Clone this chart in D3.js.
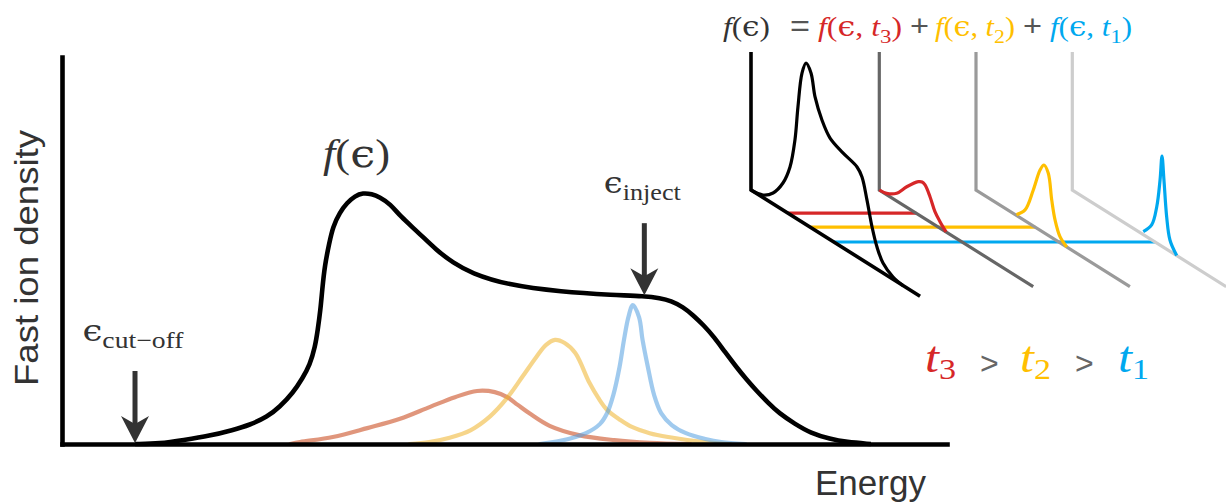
<!DOCTYPE html>
<html><head><meta charset="utf-8">
<script src="https://cdn.jsdelivr.net/npm/d3@7"></script>
<style>html,body{margin:0;padding:0;background:#fff;}svg{display:block;}</style>
</head><body>
<svg id="chart" width="1226" height="503"></svg>
<script>
// ---------- main chart data (energy 0-100, density 0-100, arbitrary units) ----------
const sumEnergy = [8.25, 11.1, 13.7, 16.7, 19.3, 21.2, 23.2, 24.6, 26.1, 27.2, 28.0, 28.6, 28.9, 29.2, 29.4, 29.7, 30.2, 30.6, 31.4, 32.2, 33.1, 34.0, 35.0, 35.9, 37.1, 38.2, 40.2, 42.3, 44.2, 46.2, 50.3, 56.4, 62.4, 65.8, 67.6, 68.8, 70.2, 71.3, 72.5, 73.7, 74.9, 76.2, 77.3, 78.5, 79.8, 81.0, 82.8, 84.6, 86.8, 88.6, 91.4];
const sumDensity = [0, 0.1, 1.0, 2.1, 3.6, 4.9, 7.0, 9.6, 13.2, 17.1, 20.4, 25.1, 29.5, 34.6, 39.8, 46.3, 51.9, 56.1, 59.9, 62.3, 64.1, 64.9, 64.6, 63.8, 62.0, 58.9, 54.8, 50.1, 46.8, 44.2, 41.1, 39.3, 38.5, 38.2, 37.7, 37.0, 35.4, 33.3, 30.7, 27.6, 23.8, 19.9, 16.8, 13.7, 10.6, 8.0, 5.2, 2.8, 1.3, 0.5, 0];

const t3Energy = [25.8, 26.9, 30.6, 34.5, 38.2, 41.6, 44.4, 46.9, 48.9, 50.3, 51.5, 52.9, 55.1, 58.4, 62.4, 66.4, 71.0];
const t3Density = [0, 0.5, 1.8, 4.1, 6.5, 9.6, 12.1, 13.7, 13.4, 12.1, 10.1, 7.8, 4.7, 2.3, 1.0, 0.3, 0];
const t2Energy = [39.3, 41.5, 43.8, 46.2, 48.4, 50.3, 52.0, 53.6, 54.7, 55.7, 56.8, 58.0, 59.6, 60.6, 61.6, 63.1, 64.4, 66.4, 68.5, 72.5, 75.5];
const t2Density = [0, 0.5, 1.6, 3.6, 7.2, 11.9, 17.3, 22.5, 25.6, 26.9, 26.1, 23.5, 15.8, 11.9, 8.8, 6.2, 4.4, 2.8, 1.8, 0.5, 0];
const t1Energy = [54.0, 56.3, 59.2, 60.8, 61.6, 62.3, 63.0, 63.5, 64.0, 64.5, 65.2, 65.6, 66.2, 66.9, 67.7, 68.9, 70.5, 72.7, 74.5, 77.2];
const t1Density = [0, 0.8, 2.8, 5.2, 8.0, 12.7, 19.9, 26.9, 32.8, 35.9, 32.8, 26.9, 19.9, 12.7, 8.0, 4.9, 2.8, 1.3, 0.5, 0];

const markerNames = ["cut\u2212off", "inject"];
const markerEnergy = [8.25, 65.8];
const markerDensity = [0, 38.2];

const axisLabels = ["Energy", "Fast ion density"];

// ---------- inset data (energy along the oblique axis, height) ----------
const insetSumS = [0, 8, 14.7, 21.3, 26, 29.3, 31.3, 34, 36.7, 40, 42.7, 47.3, 52.7, 61.3, 70.7, 74, 77.3, 80.7, 84, 88, 94.7, 101.3];
const insetSumH = [0, 1.6, 6.8, 16.9, 29.7, 48.5, 70.3, 93.1, 100.9, 96.7, 83.3, 71.6, 63.5, 59.3, 56, 51.7, 39.3, 24.4, 13.8, 6.2, 1.4, 0];
const insetT3S = [0, 4.9, 11.6, 18.3, 26, 28.5, 30.5, 33.8, 37.1, 40.5, 44.5];
const insetT3H = [0, 0.8, 4.8, 12.8, 20.5, 21.8, 21.1, 15.7, 8.3, 4.0, 0];
const insetT2S = [27, 32.7, 38.2, 42.7, 45.3, 48.2, 50.5, 52.7, 56, 60.5];
const insetT2H = [0.5, 6.8, 22.5, 37.6, 42.3, 38.8, 23.4, 12.3, 3.8, 0];
const insetT1S = [47.3, 52.9, 56.3, 58.5, 59.8, 61.1, 62.9, 65.1, 69.6];
const insetT1H = [1.8, 9.3, 22.7, 40.7, 56.4, 42.3, 20.4, 7.1, 0];
const insetLevels = [24.6, 39.5, 55.2];       // t3, t2, t1 connector positions
const insetAxisLength = [112.7, 102.6, 102.6, 102.6];
const insetAxisHeight = 86.3;

const timeLabels = ["3", "2", "1"];

// ---------- styles / layout ----------
const SERIF = "'Liberation Serif','DejaVu Serif',serif";
const GREEK = "'DejaVu Serif','Liberation Serif',serif";
const SANS = "'Liberation Sans',Arial,sans-serif";
const TXT = "#333";
const compColors = ["#d62728", "#ffbf00", "#00a8ef"];          // t3, t2, t1
const softColors = ["rgba(199,64,17,0.55)", "rgba(239,179,42,0.55)", "rgba(82,159,224,0.55)"];
const panelColors = ["#000", "#666", "#9a9a9a", "#cdcdcd"];
const panelX = [751, 879.3, 976, 1072.3];
const panelY = 190, slope = 0.628;

const svg = d3.select("#chart");
svg.append("rect").attr("width", 1226).attr("height", 503).attr("fill", "#fff");

const x = d3.scaleLinear().domain([0, 100]).range([62, 947]);
const y = d3.scaleLinear().domain([0, 100]).range([444, 57]);
const zip = (a, b) => a.map((v, i) => [v, b[i]]);
const compLine = d3.line().x(d => x(d[0])).y(d => y(d[1])).curve(d3.curveCatmullRom.alpha(0.5));
const sumLine = d3.line().x(d => x(d[0])).y(d => y(d[1])).curve(d3.curveBasis);

// component curves
const comps = [zip(t3Energy, t3Density), zip(t2Energy, t2Density), zip(t1Energy, t1Density)];
svg.append("g").selectAll("path").data(comps).join("path")
  .attr("d", compLine).attr("fill", "none")
  .attr("stroke", (d, i) => softColors[i]).attr("stroke-width", 4.2)
  .attr("stroke-linecap", "round");

// sum curve
svg.append("path").datum(zip(sumEnergy, sumDensity)).attr("d", sumLine)
  .attr("fill", "none").attr("stroke", "#000").attr("stroke-width", 4.6)
  .attr("stroke-linejoin", "round");

// axes (no ticks)
const gx = svg.append("g").attr("transform", `translate(0,${y(0)})`)
  .call(d3.axisBottom(x).tickValues([]).tickSizeOuter(0));
const gy = svg.append("g").attr("transform", `translate(${x(0)},0)`)
  .call(d3.axisLeft(y).tickValues([]).tickSizeOuter(0));
[gx, gy].forEach(g => g.select(".domain").attr("stroke", "#000").attr("stroke-width", 4.6).attr("stroke-linecap", "square"));

// axis labels
svg.append("text").attr("x", 815).attr("y", 495).attr("font-family", SANS)
  .attr("font-size", 35).attr("fill", TXT).text(axisLabels[0]);
svg.append("text").attr("transform", "translate(38,258) rotate(-90)").attr("text-anchor", "middle")
  .attr("font-family", SANS).attr("font-size", 34).attr("fill", TXT)
  .attr("textLength", 256).attr("lengthAdjust", "spacingAndGlyphs").text(axisLabels[1]);

// math text helper
function mathText(parent, o) {
  const t = parent.append("text").attr("x", o.x).attr("y", o.y).attr("font-size", o.size)
    .attr("fill", o.color || TXT).attr("font-family", SERIF).attr("text-anchor", o.anchor || "start");
  if (o.length) t.attr("textLength", o.length).attr("lengthAdjust", "spacingAndGlyphs");
  let shift = 0;
  o.parts.forEach(p => {
    const ts = t.append("tspan").text(p.t);
    const target = p.sub ? o.size * (o.subShift || 0.26) : 0;
    if (target !== shift) { ts.attr("dy", target - shift); shift = target; }
    if (p.sub) ts.attr("font-size", o.size * (o.subScale || 0.72));
    if (p.it) ts.attr("font-style", "italic");
    if (p.greek) ts.attr("font-family", GREEK);
    if (p.color) ts.attr("fill", p.color);
  });
  return t;
}

// f(eps) label
mathText(svg, { x: 323, y: 167, size: 40, length: 67,
  parts: [{ t: "f", it: true }, { t: "(" }, { t: "\u03f5", greek: true }, { t: ")" }] });

// arrows + labels
markerEnergy.forEach((e, i) => {
  const ax = x(e), tip = y(markerDensity[i]) - 1, len = 72;
  svg.append("line").attr("x1", ax).attr("x2", ax).attr("y1", tip - len).attr("y2", tip - 18)
    .attr("stroke", "#333").attr("stroke-width", 5);
  svg.append("path").attr("d", `M${ax},${tip} L${ax - 14},${tip - 27} L${ax},${tip - 19} L${ax + 14},${tip - 27} Z`)
    .attr("fill", "#333");
  mathText(svg, { x: ax - 2, y: tip - len - 30, size: 30, anchor: "middle", length: i === 0 ? 101 : 77,
    subScale: 0.78, subShift: 0.24,
    parts: [{ t: "\u03f5", greek: true }, { t: markerNames[i], sub: true }] });
});

// ---------- inset ----------
const sS = d3.scaleLinear().domain([0, 100]).range([0, 150]);
const sH = d3.scaleLinear().domain([0, 100]).range([0, 160]);
const proj = (p, s, h) => [panelX[p] + sS(s), panelY + sS(s) * slope - sH(h)];
const ins = svg.append("g");

// connectors
insetLevels.forEach((s, i) => {
  const a = proj(0, s, 0), b = proj(i + 1, s, 0);
  ins.append("line").attr("x1", a[0]).attr("y1", a[1]).attr("x2", b[0]).attr("y2", b[1])
    .attr("stroke", compColors[i]).attr("stroke-width", 3.2);
});
// panel axes
panelX.forEach((px, p) => {
  const top = proj(p, 0, insetAxisHeight), c = proj(p, 0, 0), end = proj(p, insetAxisLength[p], 0);
  ins.append("path").attr("d", `M${top[0]},${top[1]} L${c[0]},${c[1]} L${end[0]},${end[1]}`)
    .attr("fill", "none").attr("stroke", panelColors[p]).attr("stroke-width", p === 0 ? 3.6 : 3.2)
    .attr("stroke-linejoin", "miter");
});
// inset curves
const iline = d3.line().curve(d3.curveCatmullRom.alpha(0.5));
const insetCurves = [
  { p: 0, s: insetSumS, h: insetSumH, c: "#000" },
  { p: 1, s: insetT3S, h: insetT3H, c: compColors[0] },
  { p: 2, s: insetT2S, h: insetT2H, c: compColors[1] },
  { p: 3, s: insetT1S, h: insetT1H, c: compColors[2] }];
insetCurves.forEach(cv => {
  ins.append("path").attr("d", iline(cv.s.map((s, i) => proj(cv.p, s, cv.h[i]))))
    .attr("fill", "none").attr("stroke", cv.c).attr("stroke-width", 3.2);
});

// formula
const fy = 36, fs = 27;
mathText(ins, { x: 723, y: fy, size: fs, length: 47, color: "#333",
  parts: [{ t: "f", it: true }, { t: "(" }, { t: "\u03f5", greek: true }, { t: ")" }] });
ins.append("text").attr("x", 790).attr("y", fy).attr("font-family", SANS).attr("font-size", 30)
  .attr("fill", "#555").attr("textLength", 20).attr("lengthAdjust", "spacingAndGlyphs").text("=");
const fStarts = [818, 935, 1050], fLens = [84, 80, 82];
timeLabels.forEach((k, i) => {
  mathText(ins, { x: fStarts[i], y: fy, size: fs, length: fLens[i], color: compColors[i],
    parts: [{ t: "f", it: true }, { t: "(" }, { t: "\u03f5", greek: true }, { t: ", " }, { t: "t", it: true }, { t: k, sub: true }, { t: ")" }] });
});
[910, 1023].forEach(px => ins.append("text").attr("x", px).attr("y", fy).attr("font-family", SANS)
  .attr("font-size", 30).attr("fill", "#555").attr("textLength", 19).attr("lengthAdjust", "spacingAndGlyphs").text("+"));

// t3 > t2 > t1
const tStarts = [925, 1020, 1118];
timeLabels.forEach((k, i) => {
  mathText(svg, { x: tStarts[i], y: 372, size: 44, length: 31, color: compColors[i], subScale: 0.68, subShift: 0.17,
    parts: [{ t: "t", it: true }, { t: k, sub: true }] });
});
[980, 1075].forEach(px => svg.append("text").attr("x", px).attr("y", 374).attr("font-family", SANS)
  .attr("font-size", 32).attr("fill", "#666").text(">"));
</script>
</body></html>
